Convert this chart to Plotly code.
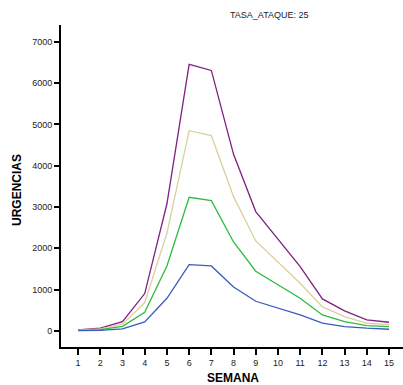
import plotly.graph_objects as go

semana = list(range(1, 16))
purple = [25, 65, 225, 905, 3080, 6455, 6310, 4278, 2890, 2230, 1558, 775, 484, 266, 210]
beige = [18, 48, 162, 686, 2365, 4850, 4729, 3252, 2179, 1670, 1155, 581, 347, 185, 153]
green = [12, 30, 110, 452, 1574, 3237, 3155, 2155, 1445, 1110, 791, 387, 226, 129, 105]
blue = [5, 12, 48, 218, 791, 1605, 1574, 1065, 718, 555, 387, 186, 105, 65, 40]

series = [
    (purple, "#80207F"),
    (beige, "#D9D0A0"),
    (green, "#2DBB3F"),
    (blue, "#3A5DBB"),
]

fig = go.Figure()
for vals, col in series:
    fig.add_trace(go.Scatter(x=semana, y=vals, mode="lines",
                             line=dict(color=col, width=1.3), showlegend=False))

W, H = 403, 385
L, R, T, B = 61, 0, 25, 38
pw, ph = W - L - R, H - T - B

def px(x):
    return (x - L) / pw

def py(y):
    return (H - B - y) / ph

fig.update_layout(
    width=W, height=H,
    margin=dict(l=L, r=R, t=T, b=B, autoexpand=False),
    plot_bgcolor="white", paper_bgcolor="white",
    font=dict(family="Arial, Liberation Sans, sans-serif", color="#222", size=9),
    xaxis=dict(range=[0.23, 15.63], tickvals=semana, showgrid=False, zeroline=False,
               showline=True, linecolor="black", linewidth=2, automargin=False,
               ticks="outside", ticklen=6, tickwidth=1.5, tickcolor="black",
               tickfont=dict(size=9)),
    yaxis=dict(range=[-390, 7410], tickvals=[0, 1000, 2000, 3000, 4000, 5000, 6000, 7000],
               showgrid=False, zeroline=False, automargin=False,
               showline=True, linecolor="black", linewidth=2,
               ticks="outside", ticklen=5, tickwidth=1.5, tickcolor="black",
               tickfont=dict(size=9)),
    annotations=[
        dict(text="TASA_ATAQUE: 25", x=px(269), y=py(15), xref="paper", yref="paper",
             showarrow=False, xanchor="center", yanchor="middle",
             font=dict(size=9, color="#222")),
        dict(text="<b>SEMANA</b>", x=px(233), y=py(378), xref="paper", yref="paper",
             showarrow=False, xanchor="center", yanchor="middle",
             font=dict(size=12, color="black")),
        dict(text="<b>URGENCIAS</b>", x=px(17), y=py(190), xref="paper", yref="paper",
             showarrow=False, xanchor="center", yanchor="middle", textangle=-90,
             font=dict(size=12, color="black")),
    ],
)

fig.write_html("out.html", config={"displayModeBar": False},
               post_script="document.body.style.margin='0';document.body.style.overflow='hidden';")
